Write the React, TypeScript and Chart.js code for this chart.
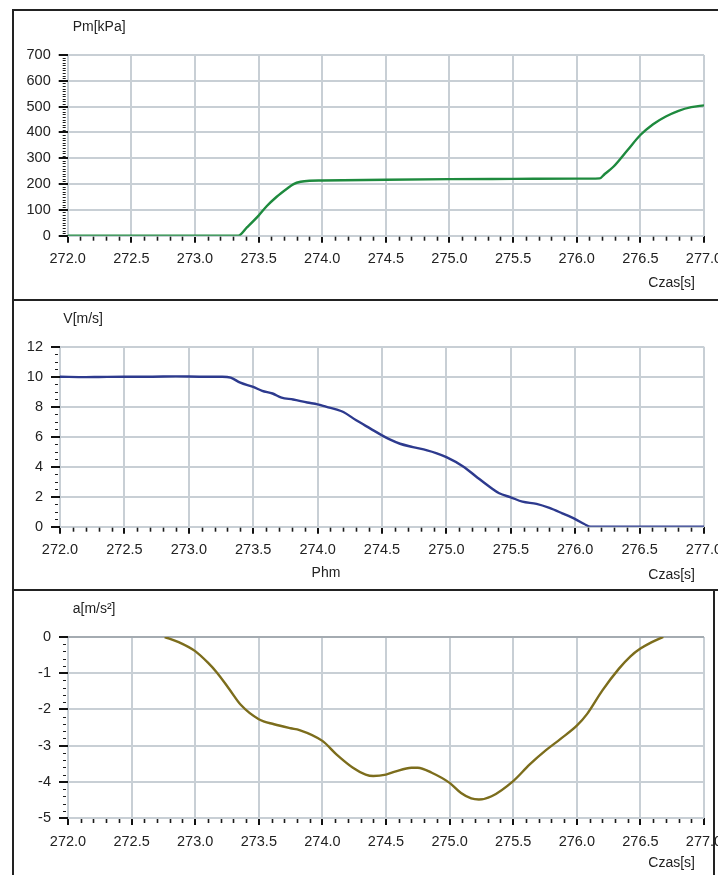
import React, { useEffect, useRef } from 'react';
import { Chart, registerables } from 'chart.js';

Chart.register(...registerables);

// ---------- data ----------
const xTickValues = [272.0, 272.5, 273.0, 273.5, 274.0, 274.5, 275.0, 275.5, 276.0, 276.5, 277.0];

const pmTickValues = [0, 100, 200, 300, 400, 500, 600, 700];
const vTickValues = [0, 2, 4, 6, 8, 10, 12];
const aTickValues = [-5, -4, -3, -2, -1, 0];

const pmTime = [272.0, 273.34, 273.41, 273.5, 273.565, 273.64, 273.72, 273.775, 273.83, 273.9, 274.0, 274.5, 275.0, 275.5, 276.0, 276.1, 276.18, 276.22, 276.29, 276.4, 276.5, 276.6, 276.7, 276.8, 276.9, 277.0];
const pmValues = [0, 0, 33, 78, 115, 150, 181, 200, 209, 213, 214, 217, 219, 220, 221, 221, 222, 239, 268, 332, 390, 432, 462, 484, 498, 505];

const vTime = [272.0, 272.2, 272.3, 272.5, 272.7, 272.9, 273.1, 273.26, 273.325, 273.4, 273.5, 273.57, 273.65, 273.72, 273.81, 273.92, 274.0, 274.07, 274.15, 274.2, 274.3, 274.41, 274.5, 274.56, 274.64, 274.74, 274.85, 274.92, 275.0, 275.13, 275.23, 275.34, 275.41, 275.5, 275.59, 275.7, 275.8, 275.9, 276.0, 276.07, 276.12, 277.0];
const vValues = [10, 9.97, 9.98, 10, 10, 10.02, 10, 10, 9.94, 9.6, 9.32, 9.06, 8.88, 8.6, 8.48, 8.28, 8.16, 7.99, 7.81, 7.65, 7.09, 6.54, 6.09, 5.82, 5.53, 5.31, 5.09, 4.91, 4.64, 4.02, 3.35, 2.63, 2.23, 1.96, 1.67, 1.52, 1.25, 0.89, 0.51, 0.18, 0, 0];

const aTime = [272.76, 272.87, 273.0, 273.1, 273.17, 273.26, 273.36, 273.5, 273.62, 273.75, 273.82, 274.0, 274.11, 274.24, 274.34, 274.4, 274.5, 274.57, 274.7, 274.75, 274.86, 275.0, 275.09, 275.17, 275.23, 275.33, 275.5, 275.63, 275.76, 275.87, 276.0, 276.08, 276.2, 276.33, 276.42, 276.5, 276.59, 276.68];
const aValues = [0, -0.14, -0.39, -0.71, -0.98, -1.4, -1.88, -2.27, -2.41, -2.52, -2.57, -2.87, -3.24, -3.61, -3.8, -3.84, -3.8, -3.72, -3.61, -3.61, -3.75, -4.03, -4.31, -4.46, -4.49, -4.4, -3.98, -3.52, -3.12, -2.82, -2.45, -2.13, -1.48, -0.88, -0.54, -0.32, -0.14, 0];

// ---------- helpers ----------
const FONT = '"Liberation Sans", Arial, Helvetica, sans-serif';
const TEXT = '#222222';
const GRID = '#c8cfd5';

const panelDecor = {
  id: 'panelDecor',
  afterDraw(chart: any, _args: any, opts: any) {
    const { ctx, chartArea, scales } = chart;
    const xs = scales.x;
    const ys = scales.y;
    ctx.save();
    ctx.strokeStyle = '#1a1a1a';
    // x minor ticks
    ctx.lineWidth = 1.6;
    const nx = Math.round((xs.max - xs.min) / opts.xMinor);
    const xRatio = Math.round(0.5 / opts.xMinor);
    for (let i = 0; i <= nx; i++) {
      if (i % xRatio === 0) continue;
      const px = Math.round(xs.getPixelForValue(xs.min + i * opts.xMinor)) + 0.5;
      ctx.beginPath();
      ctx.moveTo(px, chartArea.bottom + 1);
      ctx.lineTo(px, chartArea.bottom + 5);
      ctx.stroke();
    }
    // y minor ticks
    ctx.lineWidth = 1;
    const ny = Math.round((ys.max - ys.min) / opts.yMinor);
    const yRatio = Math.round(opts.yMajor / opts.yMinor);
    for (let i = 0; i <= ny; i++) {
      if (i % yRatio === 0) continue;
      const py = Math.round(ys.getPixelForValue(ys.min + i * opts.yMinor)) + 0.5;
      ctx.beginPath();
      ctx.moveTo(chartArea.left - 5, py);
      ctx.lineTo(chartArea.left - 2, py);
      ctx.stroke();
    }
    // labels
    ctx.fillStyle = TEXT;
    ctx.font = '14px ' + FONT;
    ctx.textBaseline = 'middle';
    for (const l of opts.labels) {
      const ax = l.ax === 'left' ? chartArea.left : chartArea.right;
      const ay = l.ay === 'top' ? chartArea.top : chartArea.bottom;
      ctx.textAlign = l.align;
      ctx.fillText(l.text, ax + l.dx, ay + l.dy);
    }
    ctx.restore();
  },
};

function makeConfig(p: any) {
  const data = p.times.map((t: number, i: number) => ({ x: t, y: p.values[i] }));
  return {
    type: 'line',
    data: {
      datasets: [
        {
          data,
          borderColor: p.color,
          borderWidth: 2.4,
          pointRadius: 0,
          fill: false,
          cubicInterpolationMode: 'monotone',
        },
      ],
    },
    plugins: [panelDecor],
    options: {
      animation: false,
      responsive: false,
      maintainAspectRatio: false,
      events: [],
      layout: { padding: { top: p.area.top, right: p.width - p.area.right, left: 0, bottom: 0 } },
      plugins: {
        legend: { display: false },
        tooltip: { enabled: false },
        panelDecor: { xMinor: 0.1, yMinor: p.yMinor, yMajor: p.yMajor, labels: p.labels },
      },
      scales: {
        x: {
          type: 'linear',
          min: 272,
          max: 277,
          afterBuildTicks: (s: any) => {
            s.ticks = xTickValues.map((v) => ({ value: v }));
          },
          afterFit: (s: any) => {
            s.height = p.height - p.area.bottom;
            s.paddingLeft = 0;
            s.paddingRight = 0;
          },
          border: { display: false },
          grid: {
            color: GRID,
            lineWidth: 2,
            drawTicks: true,
            tickLength: 7,
            tickColor: '#111111',
            tickWidth: 2,
          },
          ticks: {
            autoSkip: false,
            maxRotation: 0,
            minRotation: 0,
            padding: 8,
            color: TEXT,
            font: { family: FONT, size: 14.5 },
            callback: (v: any) => Number(v).toFixed(1),
          },
        },
        y: {
          type: 'linear',
          min: p.yMin,
          max: p.yMax,
          afterBuildTicks: (s: any) => {
            s.ticks = p.yTicks.map((v: number) => ({ value: v }));
          },
          afterFit: (s: any) => {
            s.width = p.area.left;
            s.paddingTop = 0;
            s.paddingBottom = 0;
          },
          border: { display: false },
          grid: {
            color: (c: any) => (p.darkZero && c.tick && c.tick.value === 0 ? '#a4abb1' : GRID),
            lineWidth: 2,
            drawTicks: true,
            tickLength: 9,
            tickColor: '#111111',
            tickWidth: 2,
          },
          ticks: {
            padding: 8,
            color: TEXT,
            font: { family: FONT, size: 14.5 },
            callback: (v: any) => String(v),
          },
        },
      },
    },
  };
}

const panels = [
  {
    times: pmTime,
    values: pmValues,
    color: '#1e8a3e',
    yMin: 0,
    yMax: 700,
    yTicks: pmTickValues,
    yMajor: 100,
    yMinor: 10,
    width: 716,
    height: 288,
    area: { left: 53.7, right: 690, top: 44, bottom: 224.7 },
    labels: [
      { text: 'Pm[kPa]', ax: 'left', ay: 'top', dx: 5, dy: -28, align: 'left' },
      { text: 'Czas[s]', ax: 'right', ay: 'bottom', dx: -9, dy: 47, align: 'right' },
    ],
  },
  {
    times: vTime,
    values: vValues,
    color: '#2d3a8e',
    yMin: 0,
    yMax: 12,
    yTicks: vTickValues,
    yMajor: 2,
    yMinor: 0.5,
    width: 716,
    height: 288,
    area: { left: 46, right: 690, top: 45.7, bottom: 225.7 },
    labels: [
      { text: 'V[m/s]', ax: 'left', ay: 'top', dx: 3.3, dy: -28, align: 'left' },
      { text: 'Phm', ax: 'left', ay: 'bottom', dx: 266, dy: 46, align: 'center' },
      { text: 'Czas[s]', ax: 'right', ay: 'bottom', dx: -9, dy: 48, align: 'right' },
    ],
  },
  {
    times: aTime,
    values: aValues,
    color: '#7c6d1c',
    yMin: -5,
    yMax: 0,
    yTicks: aTickValues,
    yMajor: 1,
    yMinor: 0.2,
    darkZero: true,
    width: 716,
    height: 284,
    area: { left: 54, right: 690, top: 46, bottom: 227 },
    labels: [
      { text: 'a[m/s²]', ax: 'left', ay: 'top', dx: 4.7, dy: -28, align: 'left' },
      { text: 'Czas[s]', ax: 'right', ay: 'bottom', dx: -9, dy: 45, align: 'right' },
    ],
  },
];

const canvasTops = [11, 301, 591];

export default function App() {
  const refs = [useRef<HTMLCanvasElement>(null), useRef<HTMLCanvasElement>(null), useRef<HTMLCanvasElement>(null)];

  useEffect(() => {
    const charts = panels.map((p, i) => new Chart(refs[i].current as HTMLCanvasElement, makeConfig(p) as any));
    return () => charts.forEach((c) => c.destroy());
  }, []);

  const line = (style: React.CSSProperties) => (
    <div style={{ position: 'absolute', background: '#222222', ...style }} />
  );

  return (
    <div
      style={{
        position: 'absolute',
        left: 0,
        top: 0,
        width: 718,
        height: 875,
        overflow: 'hidden',
        background: '#ffffff',
      }}
    >
      {panels.map((p, i) => (
        <canvas
          key={i}
          ref={refs[i]}
          width={p.width}
          height={p.height}
          style={{ position: 'absolute', left: 14, top: canvasTops[i], width: p.width, height: p.height }}
        />
      ))}
      {line({ left: 12, top: 9, width: 720, height: 2 })}
      {line({ left: 12, top: 9, width: 2, height: 880 })}
      {line({ left: 12, top: 299, width: 720, height: 2 })}
      {line({ left: 12, top: 589, width: 720, height: 2 })}
      {line({ left: 713, top: 589, width: 2, height: 290 })}
    </div>
  );
}
